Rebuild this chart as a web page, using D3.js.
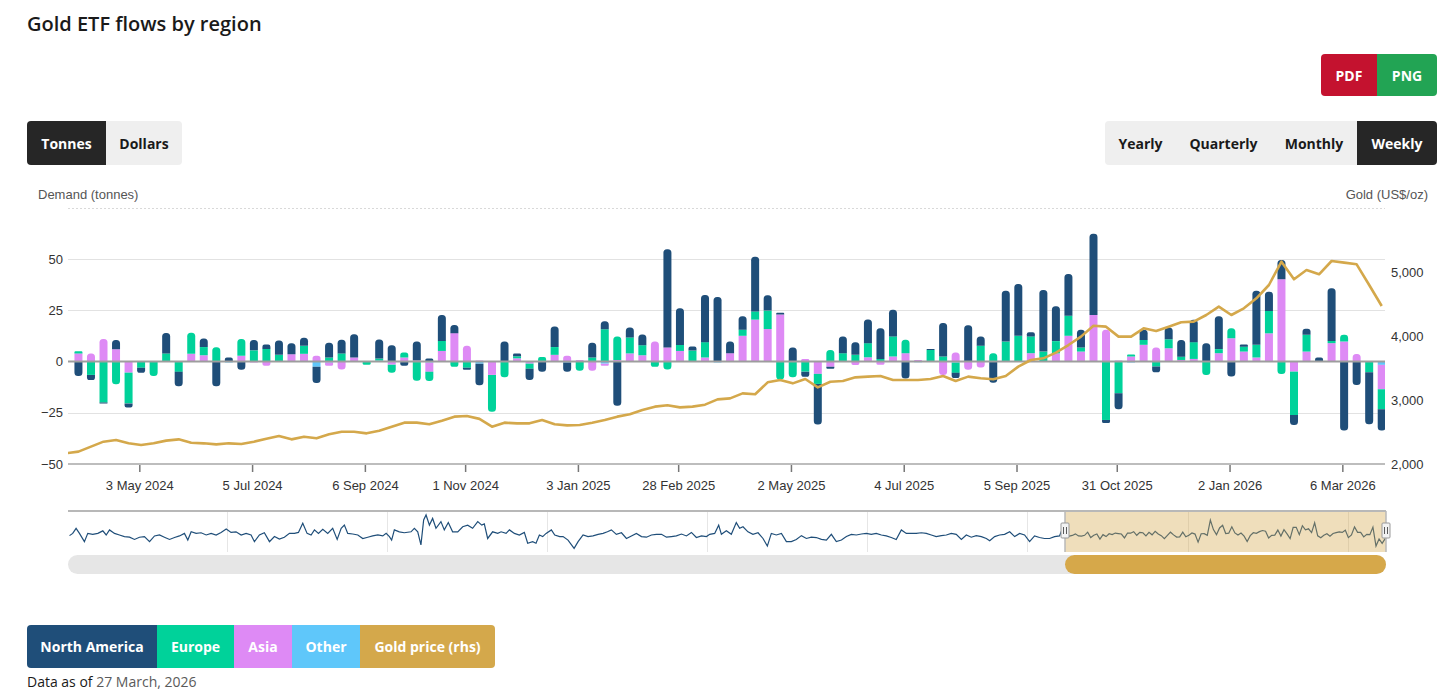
<!DOCTYPE html>
<meta charset="utf-8">
<style>
  body { margin: 0; background: #fff; }
  svg text { font-family: "Liberation Sans", Arial, sans-serif; }
  svg text.ui { font-family: "Open Sans", "Noto Sans", sans-serif; }
</style>
<body>
<svg id="chart" width="1456" height="697"></svg>
<script src="https://cdn.jsdelivr.net/npm/d3@7/dist/d3.min.js"></script>
<script>
  // weekly flows in tonnes, one value per week (first week 30 Mar 2024)
  var naFlows = [
    -7, -2.5, -0.5, 4.5, -2, -2.5, 0, 10, -7, 0,
    4.2, -12, 2, -4, 5, 2.1, 7, 5.4, 4, -8,
    7.2, 6.7, 11.4, 0, 9.3, 8, -2, 9.3, 1.5, 12.7,
    4, -1, -10.6, 0, 9.8, 1.3, -5.5, -5, 10, -4.5,
    0, 7.2, 3.9, -21.5, 4.9, 5.2, 0, 48, 18, 2,
    23, 31.5, 5.7, 6.6, 26.7, 7.5, 0.8, 6.9, -2.5, -19.8,
    -1, 8.2, 6.2, 11.5, 15, 13, -8.2, 0, 0.5, 16.4,
    -2.5, 17.7, 4.4, -10.3, 24.8, 25.3, 2, 30.1, 17, 20.4,
    8.6, 39.6, -1.5, -7.8, 0, 4.9, -2.8, 5.7, 8.2, 10.9,
    9, 16, -7.3, 1.1, 26.4, 9.4, 9.4, -4.9, 2.9, 2,
    25.7, -33.7, -11.4, -25.4, -10.4
  ];
  var europeFlows = [
    1, -6.5, -20, -11, -15, -3, -7, 4, -5, 10.3,
    4, 7, 0, 8.2, 5.5, 6.2, 3.3, 0, 3.9, 0,
    2, 4, 0, -1.5, 1, -4, 2.5, -9.3, -4.5, 4.9,
    -2.5, -3, 0, -18, -7.7, 1, -2.5, 2, 3.8, 0,
    -4.5, 2, 15.8, 11.4, 7.8, 4.9, -2.5, -3.8, 2.9, 5.4,
    7.5, 0, 0, 3, 4, 9, -8.7, -7.7, -4.9, -4.9,
    5.7, 4.1, 3.3, 6.9, 1.3, 9.8, 6.6, 0, 5.7, 2.5,
    -5, 0, 7.8, 4.1, 9.8, 12.6, 8.2, 4.9, 6, 9.8,
    2, 0, -28.5, -15.5, 1, 2.4, -2.4, 4.4, 1.6, 8.2,
    -6.5, 2, 4.9, 2.4, 6.2, 10.9, -6, -21.2, 8.2, 0,
    1.1, 3.3, 0, -5.2, -9.8
  ];
  var asiaFlows = [
    4, 4, 11, 6, -5.4, 0, 0, 0, 0, 3.8,
    2.8, 0, 0, 2.8, -0.5, -2, 0, 3.3, 3.8, 2.8,
    -1.5, -3.8, 2, 0, 0, -1.5, 2, 0.5, -4.5, 5.2,
    13.9, 7.7, 0.5, -6.5, 0, 1.6, -1, 0, 3.3, 2.8,
    0.8, -4.5, -1, 0.8, 4, 2.8, 9.8, 6.9, 5.2, 0,
    2, 0, 4.1, 12.6, 20.5, 15.9, 23, 0, 1.3, -6,
    -2.5, 0, -1.6, 2.1, -1.5, 2.5, 4.1, 0.8, 0, -6.6,
    4.4, -4, -2.9, 0, 0, 0, 4.1, 0, 4, 12.6,
    4.9, 22.8, 15.5, 0.5, 2.5, 8.2, 6.9, 6.5, 0.8, 1.3,
    0, 4.1, 11.4, 4.9, 2, 13.8, 40.2, -4.9, 4.9, 0,
    9, 9.8, 3.7, 0.3, -11.9
  ];
  var otherFlows = [
    0, 0, 0, 0, 0, 0, 0, 0, 0, 0,
    0.3, 0, -0.5, 0, 0, 0, 0, 0.3, 0, -2.5,
    -0.5, 0, 0, 0, 0.5, 0, 0, 0, -0.5, 0,
    0, 0, -1, 0, 0, 0, 0, 0.3, 0, -0.5,
    0, 0, -1, 0, 0, 0.3, 0, 0, 0, 0,
    0, -0.5, 0, 0, 0, 0, 0, 0, 0, 0,
    0, 0, 0, 0, 0, 0, 0, -0.3, 0, 0,
    -0.5, 0, 0, 0, 0, 0, 0, 0, 0, 0,
    0, 0, 0, 0, -0.5, 0, 0, 0, 0, 0,
    0, 0, 0, 0, 0, 0, 0, 0, 0, 0,
    0, 0, 0, 0, -1.6
  ];
  // gold price, US$/oz, weekly, one week earlier than the flows
  var goldPrice = [
    2167,
    2193, 2271, 2349, 2375, 2323, 2297, 2323, 2365, 2385, 2333,
    2323, 2307, 2323, 2313, 2349, 2396, 2438, 2385, 2427, 2401,
    2464, 2505, 2505, 2479, 2521, 2583, 2646, 2646, 2620, 2677,
    2740, 2750, 2705, 2583, 2646, 2635, 2635, 2688, 2620, 2604,
    2609, 2646, 2688, 2740, 2776, 2844, 2896, 2917, 2885, 2896,
    2927, 3010, 3026, 3104, 3089, 3276, 3313, 3260, 3328, 3198,
    3286, 3297, 3354, 3365, 3375, 3313, 3313, 3313, 3328, 3375,
    3297, 3365, 3339, 3323, 3375, 3521, 3625, 3651, 3740, 3859,
    3990, 4161, 4146, 3990, 3990, 4120, 4078, 4146, 4214, 4224,
    4328, 4458, 4328, 4432, 4589, 4797, 5161, 4886, 5031, 4964,
    5172, 5146, 5120, 4797, 4469
  ];
  // navigator history (North America), [decimal year, tonnes], before the flows above
  var navHistory = [
    [2018.015, -1], [2018.035, 6], [2018.056, 22], [2018.077, 6], [2018.108, -20], [2018.129, 6],
    [2018.160, 3], [2018.192, 6], [2018.223, 14], [2018.244, 1], [2018.265, 17], [2018.296, 6],
    [2018.327, 1], [2018.358, -4], [2018.390, -6], [2018.421, -13], [2018.452, -6], [2018.483, -4],
    [2018.515, -20], [2018.546, -2], [2018.577, 1], [2018.608, -6], [2018.640, -13], [2018.671, -7],
    [2018.702, -2], [2018.733, 6], [2018.754, -15], [2018.775, 11], [2018.806, 6], [2018.837, 8],
    [2018.869, 1], [2018.900, 6], [2018.931, 1], [2018.962, 9], [2018.994, 20], [2019.025, 9],
    [2019.056, 11], [2019.088, 1], [2019.119, 6], [2019.150, 1], [2019.171, -20], [2019.202, 1],
    [2019.233, 8], [2019.265, -20], [2019.296, -4], [2019.327, -12], [2019.358, -6], [2019.390, 6],
    [2019.421, 6], [2019.446, 9], [2019.473, 38], [2019.500, 6], [2019.525, 1], [2019.546, 17],
    [2019.571, 6], [2019.598, 19], [2019.629, 6], [2019.660, 22], [2019.688, -13], [2019.713, 22],
    [2019.733, 32], [2019.754, 6], [2019.785, 4], [2019.817, 1], [2019.848, -10], [2019.879, -6],
    [2019.910, -2], [2019.942, 1], [2019.973, -2], [2019.994, 6], [2020.015, -4], [2020.029, -15],
    [2020.046, 17], [2020.077, 11], [2020.108, 8], [2020.150, 11], [2020.171, 22], [2020.192, 11],
    [2020.212, -30], [2020.229, 48], [2020.244, 64], [2020.265, 32], [2020.285, 53], [2020.306, 22],
    [2020.337, 43], [2020.358, 17], [2020.383, 40], [2020.410, 11], [2020.442, 11], [2020.473, 27],
    [2020.504, 32], [2020.535, 22], [2020.567, 43], [2020.592, 32], [2020.608, 36], [2020.629, -10],
    [2020.660, 11], [2020.692, 6], [2020.713, 11], [2020.744, 6], [2020.765, 17], [2020.796, 6],
    [2020.827, 1], [2020.858, 9], [2020.879, -25], [2020.910, -20], [2020.931, -25], [2020.952, 1],
    [2020.973, -4], [2020.994, 6], [2021.025, 17], [2021.046, 1], [2021.077, -4], [2021.098, -4],
    [2021.129, -15], [2021.167, -41], [2021.192, -20], [2021.223, 1], [2021.254, -4], [2021.285, -2],
    [2021.317, 3], [2021.348, 6], [2021.375, 11], [2021.400, 17], [2021.431, 3], [2021.463, 8],
    [2021.494, -10], [2021.525, -2], [2021.556, 6], [2021.588, -4], [2021.619, -6], [2021.650, 1],
    [2021.681, 3], [2021.713, 3], [2021.744, -6], [2021.775, -4], [2021.806, -2], [2021.838, 4],
    [2021.869, -2], [2021.900, 9], [2021.931, -7], [2021.963, -2], [2021.994, -4], [2022.015, 3],
    [2022.046, 6], [2022.071, 32], [2022.088, 3], [2022.119, 14], [2022.150, 3], [2022.181, 40],
    [2022.202, 22], [2022.223, 27], [2022.254, 11], [2022.285, 3], [2022.317, 8], [2022.348, -10],
    [2022.375, -34], [2022.400, 6], [2022.431, 1], [2022.463, 6], [2022.494, -20], [2022.525, -20],
    [2022.556, -13], [2022.588, -1], [2022.619, -10], [2022.650, -6], [2022.681, -7], [2022.713, -13],
    [2022.744, -15], [2022.775, 3], [2022.806, -20], [2022.838, -15], [2022.869, -4], [2022.900, 3],
    [2022.931, 1], [2022.963, 4], [2022.994, 6], [2023.025, 3], [2023.056, 6], [2023.088, 1],
    [2023.119, -2], [2023.150, -7], [2023.181, -13], [2023.213, 17], [2023.244, 6], [2023.275, 6],
    [2023.306, 6], [2023.338, 8], [2023.369, 6], [2023.400, 1], [2023.431, -4], [2023.463, -1],
    [2023.494, 1], [2023.525, 6], [2023.556, 3], [2023.588, -13], [2023.619, 1], [2023.650, -6],
    [2023.681, -1], [2023.713, -4], [2023.744, -10], [2023.765, -17], [2023.796, -4], [2023.827, 1],
    [2023.858, 3], [2023.890, 11], [2023.921, -4], [2023.952, 6], [2023.983, 1], [2024.015, -20],
    [2024.046, -2], [2024.077, -7], [2024.108, -10], [2024.140, -10], [2024.171, -4], [2024.202, -2],
    [2024.217, 17]
  ];
  var xTickDates = ["2024-05-03", "2024-07-05", "2024-09-06", "2024-11-01", "2025-01-03", "2025-02-28",
    "2025-05-02", "2025-07-04", "2025-09-05", "2025-10-31", "2026-01-02", "2026-03-06"];
  var leftTicks = [-50, -25, 0, 25, 50];
  var rightTicks = [2000, 3000, 4000, 5000];
  var regions = ["North America", "Europe", "Asia", "Other"];

  var colors = { na: "#1f4e79", europe: "#00d29a", asia: "#de8af5", other: "#5fc7fa", gold: "#d4a84b" };

  var parse = d3.timeParse("%Y-%m-%d");
  var flowStart = new Date(2024, 2, 30);
  var goldStart = new Date(2024, 2, 23);
  var flowDates = naFlows.map(function (d, i) { return d3.timeDay.offset(flowStart, 7 * i); });
  var goldDates = goldPrice.map(function (d, i) { return d3.timeDay.offset(goldStart, 7 * i); });

  var rows = flowDates.map(function (d, i) {
    return { date: d, na: naFlows[i], europe: europeFlows[i], asia: asiaFlows[i], other: otherFlows[i] };
  });
  var keys = ["other", "asia", "europe", "na"];

  var svg = d3.select("#chart");

  var plot = { left: 68, right: 1385, top: 208, bottom: 464 };
  var mainStart = new Date(2024, 2, 24, 4), mainEnd = new Date(2026, 2, 29, 20);

  var x = d3.scaleTime().domain([mainStart, mainEnd]).range([plot.left, plot.right]);
  var yL = d3.scaleLinear().domain([-50, 75]).range([plot.bottom, plot.top]);
  var yR = d3.scaleLinear().domain([2000, 6000]).range([plot.bottom, plot.top]);

  // rounded path helper
  function rpath(x0, y0, w, h, tl, tr, br, bl) {
    var m = Math.min(w / 2, h / 2);
    tl = Math.min(tl, m); tr = Math.min(tr, m); br = Math.min(br, m); bl = Math.min(bl, m);
    return "M" + (x0 + tl) + "," + y0 +
      "H" + (x0 + w - tr) + (tr ? "A" + tr + "," + tr + " 0 0 1 " + (x0 + w) + "," + (y0 + tr) : "") +
      "V" + (y0 + h - br) + (br ? "A" + br + "," + br + " 0 0 1 " + (x0 + w - br) + "," + (y0 + h) : "") +
      "H" + (x0 + bl) + (bl ? "A" + bl + "," + bl + " 0 0 1 " + x0 + "," + (y0 + h - bl) : "") +
      "V" + (y0 + tl) + (tl ? "A" + tl + "," + tl + " 0 0 1 " + (x0 + tl) + "," + y0 : "") + "Z";
  }

  // ---- header ----
  svg.append("text").attr("class", "ui")
    .attr("x", 27).attr("y", 31)
    .style("font-size", "20px").style("font-weight", 600).style("fill", "#1a1a1a")
    .text("Gold ETF flows by region");

  function buttonRow(items, y, h) {
    items.forEach(function (b, i) {
      var first = i === 0, last = i === items.length - 1;
      svg.append("path")
        .attr("d", rpath(b.x0, y, b.x1 - b.x0, h, first ? 4 : 0, last ? 4 : 0, last ? 4 : 0, first ? 4 : 0))
        .attr("fill", b.fill);
      svg.append("text").attr("class", "ui")
        .attr("x", (b.x0 + b.x1) / 2).attr("y", y + h / 2)
        .attr("text-anchor", "middle").attr("dominant-baseline", "central")
        .style("font-size", "14px").style("font-weight", 700).style("fill", b.color)
        .text(b.label);
    });
  }

  buttonRow([
    { label: "PDF", x0: 1321, x1: 1377, fill: "#c4122f", color: "#fff" },
    { label: "PNG", x0: 1377, x1: 1437, fill: "#22a454", color: "#fff" }
  ], 54, 42);
  buttonRow([
    { label: "Tonnes", x0: 27, x1: 106, fill: "#262626", color: "#fff" },
    { label: "Dollars", x0: 106, x1: 182, fill: "#efefef", color: "#1a1a1a" }
  ], 121, 44);
  buttonRow([
    { label: "Yearly", x0: 1105, x1: 1176, fill: "#efefef", color: "#1a1a1a" },
    { label: "Quarterly", x0: 1176, x1: 1271, fill: "#efefef", color: "#1a1a1a" },
    { label: "Monthly", x0: 1271, x1: 1357, fill: "#efefef", color: "#1a1a1a" },
    { label: "Weekly", x0: 1357, x1: 1437, fill: "#262626", color: "#fff" }
  ], 121, 44);

  // ---- axis titles ----
  svg.append("text").attr("x", 38).attr("y", 199)
    .style("font-size", "13px").style("fill", "#555").text("Demand (tonnes)");
  svg.append("text").attr("x", 1428).attr("y", 199).attr("text-anchor", "end")
    .style("font-size", "13px").style("fill", "#555").text("Gold (US$/oz)");

  // ---- gridlines ----
  var grid = svg.append("g");
  [75, 50, 25, -25].forEach(function (v) {
    grid.append("line")
      .attr("x1", plot.left).attr("x2", plot.right)
      .attr("y1", Math.round(yL(v)) + 0.5).attr("y2", Math.round(yL(v)) + 0.5)
      .attr("stroke", v === 75 ? "#d9d9d9" : "#e2e2e2")
      .attr("stroke-dasharray", v === 75 ? "2,2" : null);
  });

  // ---- axes ----
  var leftAxis = svg.append("g").attr("transform", "translate(66,0)")
    .call(d3.axisLeft(yL).tickValues(leftTicks).tickSize(0).tickPadding(3));
  var rightAxis = svg.append("g").attr("transform", "translate(1388,0)")
    .call(d3.axisRight(yR).tickValues(rightTicks).tickSize(0).tickPadding(3).tickFormat(d3.format(",")));
  [leftAxis, rightAxis].forEach(function (a) {
    a.select(".domain").remove();
    a.selectAll("text").style("font-size", "13px").style("fill", "#333").style("font-family", "Liberation Sans, Arial, sans-serif");
  });

  svg.append("clipPath").attr("id", "plotclip").append("rect")
    .attr("x", plot.left).attr("y", plot.top - 2).attr("width", plot.right - plot.left).attr("height", plot.bottom - plot.top + 4);

  // ---- stacked bars ----
  var series = d3.stack().keys(keys).offset(d3.stackOffsetDiverging)(rows);
  var barW = 8, rad = 3.5;
  var bars = svg.append("g").attr("clip-path", "url(#plotclip)");

  rows.forEach(function (r, i) {
    var topKey = null, botKey = null;
    keys.forEach(function (k) {
      if (r[k] > 0) topKey = k;
      if (r[k] < 0) botKey = k;
    });
    series.forEach(function (s) {
      var k = s.key, seg = s[i];
      if (r[k] === 0) return;
      var yTop = yL(seg[1]), yBot = yL(seg[0]);
      var h = yBot - yTop;
      var rt = k === topKey ? rad : 0;
      var rb = k === botKey ? rad : 0;
      bars.append("path")
        .attr("d", rpath(x(r.date) - barW / 2, yTop, barW, h, rt, rt, rb, rb))
        .attr("fill", colors[k]);
    });
  });

  // zero line and bottom axis line
  svg.append("line").attr("x1", plot.left).attr("x2", plot.right)
    .attr("y1", yL(0)).attr("y2", yL(0)).attr("stroke", "#9d9d9d").attr("stroke-width", 2);
  svg.append("line").attr("x1", plot.left).attr("x2", plot.right)
    .attr("y1", plot.bottom).attr("y2", plot.bottom).attr("stroke", "#bdbdbd").attr("stroke-width", 2);

  // ---- x axis ----
  var xAxis = svg.append("g").attr("transform", "translate(0," + (plot.bottom + 1) + ")")
    .call(d3.axisBottom(x).tickValues(xTickDates.map(parse)).tickSize(7).tickPadding(9)
      .tickFormat(d3.timeFormat("%-d %b %Y")));
  xAxis.select(".domain").remove();
  xAxis.selectAll("line").attr("stroke", "#777").attr("stroke-width", 1.5);
  xAxis.selectAll("text").style("font-size", "13px").style("fill", "#333").style("font-family", "Liberation Sans, Arial, sans-serif");

  // ---- gold line ----
  var goldLine = d3.line()
    .x(function (d, i) { return x(goldDates[i]); })
    .y(function (d) { return yR(d); });
  svg.append("path").attr("clip-path", "url(#plotclip)")
    .attr("d", goldLine(goldPrice))
    .attr("fill", "none").attr("stroke", colors.gold).attr("stroke-width", 2.6)
    .attr("stroke-linejoin", "round");

  // ---- navigator ----
  var nav = { top: 511, bottom: 552, left: 68, right: 1386 };
  var navX = d3.scaleTime().domain([new Date(2018, 0, 3), mainEnd]).range([nav.left, nav.right]);
  var navY = d3.scaleLinear().domain([-52.5, 76.4]).range([nav.bottom, nav.top]);

  function fromDecimalYear(v) {
    var yr = Math.floor(v);
    return new Date(new Date(yr, 0, 1).getTime() + (v - yr) * 365.25 * 864e5);
  }
  var navData = navHistory.map(function (p) { return [fromDecimalYear(p[0]), p[1]]; })
    .concat(rows.map(function (r) { return [r.date, r.na]; }));

  svg.append("clipPath").attr("id", "navclip").append("rect")
    .attr("x", nav.left).attr("y", nav.top).attr("width", nav.right - nav.left).attr("height", nav.bottom - nav.top);

  var navG = svg.append("g");
  d3.range(2019, 2027).forEach(function (yr) {
    var gx = Math.round(navX(new Date(yr, 0, 1))) + 0.5;
    navG.append("line").attr("x1", gx).attr("x2", gx).attr("y1", nav.top).attr("y2", nav.bottom)
      .attr("stroke", "#e6e6e6");
  });
  navG.append("path").attr("clip-path", "url(#navclip)")
    .attr("d", d3.line().x(function (d) { return navX(d[0]); }).y(function (d) { return navY(d[1]); })(navData))
    .attr("fill", "none").attr("stroke", colors.na).attr("stroke-width", 1.2);

  var selL = Math.max(navX(mainStart), 1065), selR = nav.right;
  navG.append("rect").attr("x", selL).attr("y", nav.top).attr("width", selR - selL).attr("height", nav.bottom - nav.top)
    .attr("fill", colors.gold).attr("fill-opacity", 0.38);
  navG.append("line").attr("x1", nav.left).attr("x2", nav.right).attr("y1", nav.top).attr("y2", nav.top)
    .attr("stroke", "#b8b8b8").attr("stroke-width", 2);
  [selL, selR].forEach(function (sx) {
    navG.append("line").attr("x1", sx).attr("x2", sx).attr("y1", nav.top).attr("y2", nav.bottom)
      .attr("stroke", "#b8b8b8").attr("stroke-width", 1.5);
  });
  [selL, selR].forEach(function (sx) {
    navG.append("rect").attr("x", sx - 4).attr("y", 523).attr("width", 8).attr("height", 15).attr("rx", 1)
      .attr("fill", "#f2f2f2").attr("stroke", "#999");
    [-1.5, 1.5].forEach(function (o) {
      navG.append("line").attr("x1", sx + o).attr("x2", sx + o).attr("y1", 527).attr("y2", 534)
        .attr("stroke", "#333").attr("stroke-width", 0.8);
    });
  });

  // scrollbar
  svg.append("rect").attr("x", nav.left).attr("y", 555).attr("width", nav.right - nav.left).attr("height", 19)
    .attr("rx", 9.5).attr("fill", "#e6e6e6");
  svg.append("rect").attr("x", selL).attr("y", 555).attr("width", selR - selL).attr("height", 19)
    .attr("rx", 9.5).attr("fill", "#d6a84a");

  // ---- legend ----
  var legendItems = [
    { label: regions[0], x0: 27, x1: 157, fill: colors.na },
    { label: regions[1], x0: 157, x1: 234, fill: colors.europe },
    { label: regions[2], x0: 234, x1: 292, fill: colors.asia },
    { label: regions[3], x0: 292, x1: 360, fill: colors.other },
    { label: "Gold price (rhs)", x0: 360, x1: 495, fill: colors.gold }
  ].map(function (d) { d.color = "#fff"; return d; });
  buttonRow(legendItems, 625, 43);

  var note = svg.append("text").attr("class", "ui").attr("x", 27).attr("y", 687)
    .style("font-size", "14px").style("fill", "#1a1a1a");
  note.append("tspan").text("Data as of ");
  note.append("tspan").style("fill", "#5a5a5a").text("27 March, 2026");
</script>
